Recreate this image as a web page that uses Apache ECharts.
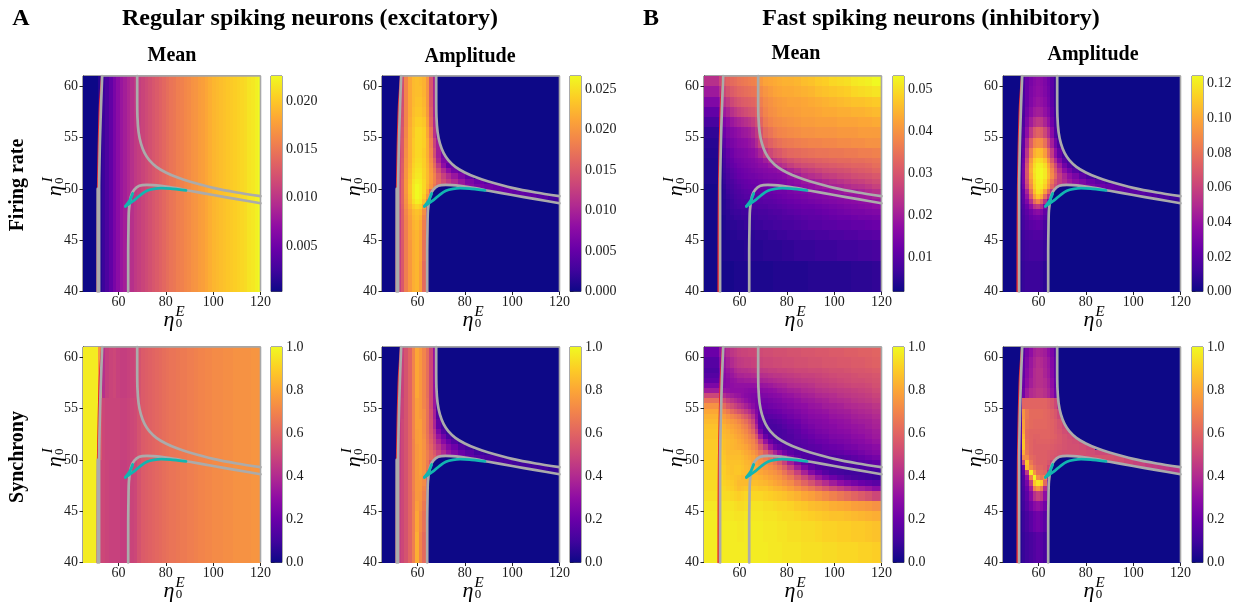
<!DOCTYPE html>
<html><head><meta charset="utf-8">
<style>html,body{margin:0;padding:0;background:#fff}#c{width:1237px;height:602px}</style>
<script src="https://cdn.jsdelivr.net/npm/echarts@6/dist/echarts.min.js"></script>
</head><body><div id="c"></div>
<script>
const plasma=['#0d0887','#41049d','#6a00a8','#8f0da4','#b12a90','#cc4778','#e16462','#f2844b','#fca636','#fcce25','#f0f921'];
const xTicks=[60,80,100,120];
const yTicks=[40,45,50,55,60];
const xE=[45,51.5,53,54.5,56,57.5,59,60.5,62,63.5,65,66.5,68,70,72,74,77,80,84,88,92,96,100,105,110,115,120];
const xM=[45,51.5,53,54.5,56,57.5,59,60.5,62,63.5,65,66.5,68,70,72,74,76,78,80,83,86,89,92,95,98,101,104,107,110,113,116,120];
const yE=[40,43,45,46,47,47.5,48,48.5,49,49.5,50,50.5,51,51.5,52,52.5,53,54,55,56,57,58,59,60,61];
const yF=[40,42,44,45,46,47,47.5,48,48.5,49,49.5,50,50.5,51,51.5,52,52.5,53,53.5,54,54.5,55,55.5,56,56.5,57,57.5,58,58.5,59,60,61];
const xFine=[45,51.5,53,54.5,56,57.5,59,60.5,62,63.5,65,66.5,68,69.5,71,72.5,74,75.5,77,78.5,80,81.5,83,84.5,86,87.5,89,90.5,92,93.5,95,96.5,98,99.5,101,102.5,104,105.5,107,108.5,110,111.5,113,114.5,116,117.5,119,120];
const yWhole=[40,61];
const ySync=[40,50,56,61];

// Values are percent of each colour bar's span.
const rateMeanRS=[[0,5,9,13,18,24,29,33,36,39,42,45,47,49,51,53,55,57,59,61,63,65,66,68,69,71,72,74,75,77,78,80,82,84,85,86,87,88,89,90,91,92,93,95,96,98,100]];
const syncMeanRS=[
[97,50,50,49,48,48,48,47,47,48,49,50,54,57,58,59,60,61,62,63,64,65,65,66,67,67,68,68,69,70,70,71,71,72,72,72,73,73,73,74,74,74,74,74,75,75,75],
[97,55,50,49,49,49,49,48,48,49,50,51,54,57,58,59,60,61,62,63,64,65,65,66,67,67,68,68,69,70,70,71,71,72,72,72,73,73,73,74,74,74,74,74,75,75,75],
[97,75,42,47,49,50,48,47,47,48,49,50,54,57,58,59,60,61,62,63,64,65,65,66,67,67,68,68,69,70,70,71,71,72,72,72,73,73,73,74,74,74,74,74,75,75,75]];
const rateAmpRS=[
[0,47,56,68,76,82,84,78,62,42],[0,47,56,68,76,82,84,79,64,42],[0,47,57,68,77,82,84,80,66,42],[0,47,57,69,77,83,85,81,68,44],
[0,48,58,70,78,84,86,83,70,45],[0,48,58,71,79,85,87,85,73,48],[0,49,59,73,82,89,92,90,78,55],
[0,50,60,74,85,94,98,96,86,66,30,0,0,0,0,0,0,0,0,0,0,0,0,0,10,10],
[0,50,60,75,86,96,100,98,90,75,42,0,0,0,0,0,0,0,0,0,0,0,18,17,15,12],
[0,50,60,76,87,96,100,98,92,80,60,0,0,0,0,0,0,0,24,22,20,20,18,17,15,12],
[0,50,60,76,87,96,100,98,92,84,75,66,58,50,45,40,35,28,24,22,20,18,17],
[0,50,60,76,86,95,98,97,92,85,77,69,60,52,46,40,33,25,20,15,14],
[0,50,59,75,85,93,96,96,91,85,77,69,58,48,40,33,25,18],
[0,50,58,75,84,92,95,95,91,85,76,66,52,40,30,22,18,12],
[0,50,58,74,83,91,94,94,90,84,74,62,45,30,18,20],
[0,50,57,74,82,90,93,93,90,83,72,58,38,25,25,15],
[0,50,56,73,82,89,92,92,89,82,70,52,35,22,12],
[0,50,56,72,82,89,92,92,90,82,68,48,35,10],
[0,48,55,71,82,88,92,92,90,80,65,42,30],
[0,47,54,70,81,87,90,90,88,78,60,40],
[0,46,53,70,80,86,88,88,85,76,58,38],
[0,45,52,70,80,85,87,87,84,75,56,38],
[0,45,52,70,80,85,86,86,83,75,55,38],
[0,42,52,70,80,85,86,85,83,75,55,38]];
const syncAmpRS=[
[0,47,50,54,60,68,82,70,62,48],[0,47,50,54,60,68,80,72,64,50],[0,47,50,54,60,68,78,74,66,50],[0,47,50,54,60,68,76,75,68,52],
[0,47,50,54,60,69,76,76,70,52],[0,47,50,54,60,69,76,76,72,55],[0,46,50,54,60,69,76,77,72,55],
[0,46,50,54,60,69,76,78,74,62,35,0,0,0,0,0,0,0,0,0,0,0,0,0,8,8],
[0,46,50,54,60,69,76,78,74,66,45,0,0,0,0,0,0,0,0,0,0,0,10,10,10,8],
[0,46,50,54,60,69,76,78,74,67,55,0,0,0,0,0,0,0,15,14,12,12,10,10,9,8],
[0,46,50,54,60,69,76,78,74,68,62,58,50,43,36,30,24,18,15,13,12,10,10],
[0,46,50,54,60,69,76,78,74,68,62,56,48,40,32,26,20,15,10,8,8],
[0,46,50,54,60,69,76,78,74,67,60,52,44,35,27,21,14,10],
[0,46,50,54,60,69,77,78,74,66,58,49,38,28,20,14,8,8],
[0,46,50,54,60,70,77,78,73,65,56,46,32,22,12,8],
[0,46,50,54,60,70,77,78,72,64,54,43,25,14,8,6],
[0,46,50,54,60,70,78,78,72,64,53,38,18,10,6],
[0,46,49,54,60,70,78,76,72,64,52,36,14,6],
[0,45,49,54,60,70,78,76,70,64,50,33,12],
[0,44,48,54,60,70,80,76,70,63,50,32],[0,44,48,54,60,70,80,76,70,63,50,32],[0,44,48,54,60,70,80,76,70,63,50,32],[0,44,48,54,60,70,80,76,70,63,50,32],[0,44,48,54,60,70,80,76,70,63,50,32]];
const rateMeanFS=[
[1,1,2,2,2,3,3,3,3,3,3,3,3,3,3,4,4,4,4,4,4,5,5,5,5,5,5,6,6,6,7],
[1,2,3,3,4,4,4,4,5,5,5,5,5,6,6,6,6,7,7,8,8,8,9,9,9,10,10,10,11,11,12],
[1,2,3,4,5,5,6,6,6,6,6,7,7,7,8,8,9,9,10,10,11,11,12,12,13,13,14,14,15,15,16],
[1,2,4,5,6,6,7,7,8,8,8,9,9,10,10,11,11,12,12,13,14,15,15,16,16,17,17,18,18,19,20],
[2,2,4,6,7,8,8,9,9,10,10,10,11,11,12,12,13,14,14,15,16,17,17,18,19,20,20,21,22,22,23],
[2,3,5,6,8,9,9,10,10,11,11,11,12,12,13,14,14,15,16,17,18,18,19,20,21,22,23,24,24,25,26],
[2,3,5,7,9,10,11,12,12,12,13,13,14,14,15,15,16,17,18,19,20,20,21,22,23,24,25,26,27,28,30],
[2,3,5,7,9,11,12,13,13,14,14,15,15,16,16,17,18,19,20,21,22,23,24,25,26,27,28,29,30,31,33],
[2,3,6,8,10,12,13,14,15,15,16,16,17,18,18,19,20,21,22,23,24,25,26,27,28,29,31,32,34,35,37],
[2,3,6,9,11,13,14,15,16,17,17,18,19,19,20,21,22,22,24,25,26,28,29,30,32,33,35,36,38,40,42],
[2,4,7,10,12,14,15,17,18,19,19,20,21,21,22,23,23,24,26,28,30,31,33,35,37,38,40,42,43,45,48],
[3,4,8,11,13,15,17,18,19,20,21,21,22,23,24,24,25,26,28,30,33,35,37,39,41,43,45,47,48,50,52],
[3,5,9,12,15,17,19,20,21,22,22,23,24,25,26,26,27,29,32,35,39,41,43,46,47,49,50,52,53,54,56],
[3,5,10,13,16,18,20,21,22,23,24,25,26,27,28,29,31,34,38,41,45,47,49,51,52,53,54,56,57,58,60],
[3,6,11,15,18,20,22,23,24,25,26,27,29,30,33,36,40,43,47,50,52,53,55,56,57,58,59,60,60,61,63],
[3,7,12,16,19,22,23,24,25,26,27,29,31,35,40,44,47,50,53,55,57,58,59,60,61,62,62,63,63,64,65],
[4,8,14,18,21,24,25,26,27,29,30,33,38,45,50,54,56,59,61,62,63,64,65,65,66,66,67,67,68,68,69],
[5,10,17,22,24,26,28,29,30,32,34,40,48,55,59,62,64,66,67,68,69,70,70,71,71,72,72,73,73,74,74],
[7,13,21,25,27,29,31,33,34,36,39,45,54,62,65,68,70,71,72,73,74,74,75,75,75,76,76,76,77,77,77],
[12,18,26,30,33,36,38,40,42,44,47,52,60,67,70,72,73,74,75,76,77,77,78,78,78,79,79,79,80,80,81],
[18,25,34,38,42,45,48,50,52,54,55,58,65,70,73,74,76,77,77,78,79,79,80,81,81,82,82,83,83,84,85],
[26,33,42,46,50,53,55,57,58,59,60,62,68,72,74,76,77,78,79,79,80,81,82,83,84,85,86,87,87,88,89],
[34,42,50,54,57,59,61,62,63,64,65,66,72,75,77,79,80,81,81,82,83,84,86,87,88,89,90,92,93,94,95],
[42,50,57,60,62,63,65,66,67,68,69,70,76,79,80,81,82,83,83,84,86,87,89,90,92,93,94,96,97,98,100]];
const syncMeanFS=[
[97,97,97,97,97,97,97,97,97,97,97,97,97,97,96,96,96,95,95,95,94,94,94,93,93,92,92,92,91,91,90],
[97,97,97,97,97,97,96,96,97,97,97,97,97,96,96,96,95,95,94,94,93,93,92,91,91,90,90,89,89,88,87],
[97,96,96,96,96,95,95,95,96,96,96,96,96,95,95,95,94,93,93,92,91,90,89,88,87,87,86,85,84,83,82],
[96,96,95,95,95,94,93,93,94,95,95,95,95,94,94,93,92,92,91,89,88,86,85,84,82,81,80,78,77,76,74],
[94,94,93,93,92,91,90,91,92,92,92,92,92,91,90,89,88,87,85,83,80,78,75,72,69,66,63,60,57,54,50],
[93,93,92,91,90,88,86,87,88,89,89,89,88,88,86,84,83,81,78,74,70,66,61,56,51,47,43,39,36,33,29],
[93,92,91,90,89,87,85,85,85,86,86,86,85,84,82,80,78,75,72,66,60,54,47,41,35,30,26,23,20,18,16],
[92,92,90,89,88,87,86,84,84,84,84,84,83,81,79,77,75,71,66,58,50,42,33,26,21,17,14,12,11,10,9],
[92,91,90,88,87,88,88,86,85,84,83,82,80,78,76,74,71,65,58,48,37,27,20,15,12,11,10,10,10,10,10],
[91,91,90,88,87,88,88,87,85,84,82,80,77,75,73,70,65,58,48,36,26,18,14,12,11,11,11,11,12,13,14],
[91,90,89,87,87,87,87,86,84,83,80,78,75,72,70,65,58,48,36,25,18,15,13,12,12,12,13,14,15,16,18],
[90,89,88,86,86,86,86,85,83,81,79,76,72,68,64,56,48,36,24,17,14,13,12,12,13,14,15,17,19,21,23],
[90,89,87,85,85,85,85,83,81,79,76,72,66,58,48,38,30,22,17,14,14,14,15,16,17,18,20,21,23,25,27],
[89,88,86,85,84,83,82,81,79,76,72,68,58,46,32,22,18,15,14,14,15,16,17,19,20,21,23,24,26,27,29],
[89,88,86,85,84,83,81,79,76,73,70,63,48,32,20,15,13,13,14,15,16,18,20,21,23,24,25,27,28,30,32],
[88,87,85,84,83,81,79,77,74,70,66,56,36,20,14,12,12,13,14,16,18,20,22,23,25,26,27,29,30,32,34],
[88,86,84,83,81,79,77,74,71,66,60,46,24,14,12,12,12,13,15,17,20,22,24,25,27,28,29,31,32,33,35],
[87,85,83,81,79,77,75,71,68,62,54,38,18,13,12,12,13,15,17,19,22,24,26,27,28,30,31,32,33,35,37],
[85,83,80,78,76,74,71,67,63,57,49,32,16,13,13,14,15,17,19,21,24,26,27,28,30,31,32,34,35,36,38],
[83,80,77,74,71,68,65,60,56,50,42,29,17,15,16,17,18,20,22,24,26,28,29,30,32,33,34,36,37,38,40],
[80,76,71,67,62,58,54,50,46,41,34,26,19,18,19,20,21,23,24,26,28,30,31,32,34,35,36,38,39,40,42],
[74,68,62,56,52,48,44,41,37,33,29,24,21,21,22,23,24,25,27,29,30,32,33,35,36,37,39,40,41,42,44],
[64,58,52,47,43,40,37,34,31,28,26,24,23,23,24,25,26,28,29,31,33,34,36,37,39,40,41,43,44,45,47],
[50,44,40,37,35,33,32,30,28,27,26,25,25,26,27,28,29,31,32,34,36,37,39,40,41,43,44,45,46,47,49],
[35,34,32,31,30,30,30,30,29,28,28,28,28,29,30,31,33,34,36,37,39,40,42,43,44,45,46,47,48,49,51],
[25,27,28,29,30,31,31,31,31,31,31,32,32,33,34,36,37,38,40,41,42,43,45,46,47,48,49,50,50,51,53],
[18,24,27,29,31,32,34,34,35,35,36,36,37,38,39,40,41,42,43,44,45,46,47,48,49,50,51,52,52,53,54],
[15,24,28,31,33,36,38,38,39,39,40,41,41,42,43,44,44,45,46,47,48,48,49,50,51,52,52,53,54,54,55],
[13,25,30,33,35,39,41,42,42,43,44,45,45,46,47,47,48,48,49,50,50,51,51,52,53,53,54,55,55,56,57],
[15,28,33,37,40,43,45,46,47,47,48,49,49,50,50,51,51,52,52,53,53,54,54,55,55,56,56,57,57,58,59],
[20,32,37,41,44,46,48,49,49,50,50,51,51,52,52,53,53,53,54,54,55,55,56,56,57,57,58,58,59,59,60]];
const rateAmpFS=[
[0,5,8,9,9,9,9,8,6,4],[0,6,9,10,11,11,11,10,8,5],[0,6,10,12,13,14,14,13,10,6],[0,7,11,14,16,17,18,16,12,7],
[0,7,12,15,19,21,22,20,15,8],[0,7,13,17,22,27,29,26,18,9],[0,8,14,20,30,42,46,40,25,12],
[0,8,16,26,42,62,70,60,42,25,10,0,0,0,0,0,0,0,0,0,0,0,0,0,8,8],
[0,9,17,32,55,78,88,82,62,42,25,0,0,0,0,0,0,0,0,0,0,0,14,14,12,10],
[0,9,18,38,64,86,95,92,78,60,42,0,0,0,0,0,0,0,22,18,17,16,16,14,12,10],
[0,9,22,48,72,90,97,97,90,76,60,50,44,38,34,30,27,24,21,19,17,15,13],
[0,10,24,52,76,92,98,99,93,80,66,54,46,40,34,29,25,20,16,12,10],
[0,10,24,55,80,94,99,100,96,85,72,60,47,38,30,24,17,12],
[0,10,24,56,82,95,99,100,96,84,70,56,42,30,22,15,10,8],
[0,9,23,54,80,93,98,98,93,80,65,50,35,22,14,10],
[0,9,21,50,76,90,94,93,87,72,56,40,26,15,10,6],
[0,8,19,44,68,82,86,85,77,62,46,30,18,10,5],
[0,8,17,38,58,70,73,72,64,50,36,22,12,5],
[0,7,15,30,45,56,60,58,50,40,28,14,8],
[0,7,13,25,35,42,45,44,38,31,22,12],
[0,7,12,22,29,34,36,35,31,26,19,10],
[0,6,12,20,26,30,32,31,28,23,17,9],
[0,6,12,20,25,28,30,29,26,22,16,9],
[0,6,12,20,24,27,29,28,25,21,16,9]];
const syncAmpFS=[
[0,5,8,10,12,14,16,15,12,8],[0,5,9,12,16,20,22,20,16,9],[0,6,10,15,22,28,31,28,22,10],[0,6,11,17,28,42,48,44,30,14],
[0,6,12,20,36,68,76,66,40,15],[0,6,13,24,48,88,96,90,62,20],[0,6,14,30,70,100,72,66,70,35],
[0,6,16,45,98,75,63,62,60,42,12,0,0,0,0,0,0,0,0,0,0,0,0,0,42,42],
[0,7,20,85,72,64,60,60,58,50,30,0,0,0,0,0,0,0,0,0,0,0,48,46,45,44],
[0,8,50,88,66,60,58,58,58,55,48,0,0,0,0,0,0,0,54,52,52,50,48,46,44,44],
[0,8,72,72,62,60,58,58,58,57,55,54,53,52,52,52,52,53,54,54,53,50,48],
[0,10,82,66,60,58,58,58,58,57,56,55,54,53,53,53,53,52,50,50,50],
[0,12,88,64,60,58,58,58,58,58,57,56,55,54,53,53,52,50],
[0,14,88,63,60,58,59,59,59,59,58,57,56,54,53,52,50,48],
[0,16,84,62,60,59,59,60,60,60,59,58,56,54,52,50],
[0,16,80,62,60,60,60,60,60,60,59,57,55,52,50,48],
[0,15,78,64,62,61,61,61,61,60,59,57,54,50,46],
[0,14,75,66,62,62,62,62,61,60,58,55,50,42],
[0,12,60,60,60,60,60,60,60,58,55,50,40],
[0,5,22,34,40,42,44,44,42,38,32,22],
[0,5,20,30,36,40,42,42,40,36,30,20],
[0,5,18,28,34,40,42,42,38,34,28,18],
[0,5,18,26,33,38,41,40,37,33,27,18],
[0,5,16,24,30,36,38,37,35,30,25,16]];

const redLine=[[51,40],[51.05,45],[51.2,50],[51.5,54],[52,58],[52.9,61]];
const grayLeft=[[51.8,40],[51.8,45],[51.8,50],[52,53],[52.2,55],[52.6,58],[53.1,61]];
const grayLeftRS=[[51.2,40],[51.2,50]];
const grayUpper=[[67.9,61],[67.9,59],[68,57],[68.5,55.5],[69.5,54.4],[71,53.5],[73,52.8],[76,52.15],[80,51.6],[85,51.1],[90,50.72],[100,50.1],[110,49.65],[120,49.3]];
const grayLower=[[64.1,40],[64.1,44],[64.2,46],[64.4,47.9],[65.3,49.3],[66.6,49.9],[68.8,50.3],[72,50.4],[78,50.3],[85,50.05],[90,49.82],[100,49.4],[110,49],[120,48.6]];
const grayFrame=[[53.1,61],[120,61],[120,40]];
const cyanMain=[[88.5,49.85],[85,49.95],[82,50.03],[78,50.07],[75,50],[72,49.82],[69.5,49.45],[66.7,48.9],[64.5,48.55],[62.9,48.3]];
const cyanBack=[[62.9,48.3],[64.7,48.85],[66,49.55]];

const panels=[
 {name:'rateMeanRS',d:rateMeanRS,xs:xFine,ys:yWhole,lo:.0003,hi:.0226,ticks:[.005,.01,.015,.02],dec:3,L:83,T:76,C:271,rs:true},
 {name:'rateAmpRS',d:rateAmpRS,xs:xE,ys:yE,lo:0,hi:.0266,ticks:[0,.005,.01,.015,.02,.025],dec:3,L:382,T:76,C:570,rs:true,amp:true},
 {name:'rateMeanFS',d:rateMeanFS,xs:xM,ys:yE,lo:.0018,hi:.0533,ticks:[.01,.02,.03,.04,.05],dec:2,L:704,T:76,C:893,rs:false},
 {name:'rateAmpFS',d:rateAmpFS,xs:xE,ys:yE,lo:0,hi:.1245,ticks:[0,.02,.04,.06,.08,.1,.12],dec:2,L:1003,T:76,C:1192,rs:false,amp:true},
 {name:'syncMeanRS',d:syncMeanRS,xs:xFine,ys:ySync,lo:0,hi:1,ticks:[0,.2,.4,.6,.8,1],dec:1,L:83,T:347,C:271,rs:true},
 {name:'syncAmpRS',d:syncAmpRS,xs:xE,ys:yE,lo:0,hi:1,ticks:[0,.2,.4,.6,.8,1],dec:1,L:382,T:347,C:570,rs:true,amp:true},
 {name:'syncMeanFS',d:syncMeanFS,xs:xM,ys:yF,lo:0,hi:1,ticks:[0,.2,.4,.6,.8,1],dec:1,L:704,T:347,C:893,rs:false},
 {name:'syncAmpFS',d:syncAmpFS,xs:xE,ys:yE,lo:0,hi:1,ticks:[0,.2,.4,.6,.8,1],dec:1,L:1003,T:347,C:1192,rs:false,amp:true}
];
const F='"Liberation Serif",serif';
const W=177.5,H=215.5;
const grid=[],xAxis=[],yAxis=[],series=[],visualMap=[],graphic=[];
const lab={fontFamily:F,fontSize:14,color:'#1a1a1a'};
function txt(t,x,y,size,o){graphic.push({type:'text',x,y,rotation:(o&&o.rot)||0,silent:true,z:100,style:{text:t,fill:'#000',align:'center',verticalAlign:'middle',font:((o&&o.st)||'')+' '+size+'px '+F}});}
function renderCell(p,api){
  const a=api.coord([api.value(0),api.value(3)]),b=api.coord([api.value(1),api.value(2)]);
  const x=Math.round(a[0]),y=Math.round(a[1]);
  return {type:'rect',shape:{x,y,width:Math.round(b[0])-x,height:Math.round(b[1])-y},style:{fill:api.visual('color')}};
}
const gradStops=plasma.map((c,i)=>({offset:i/(plasma.length-1),color:c}));
function renderBar(p,api){
  const a=api.coord([api.value(0),api.value(3)]),b=api.coord([api.value(1),api.value(2)]);
  return {type:'rect',shape:{x:a[0],y:a[1],width:b[0]-a[0],height:b[1]-a[1]},style:{fill:new echarts.graphic.LinearGradient(0,1,0,0,gradStops)}};
}
function mask(gi,pts){
  series.push({type:'custom',xAxisIndex:gi,yAxisIndex:gi,silent:true,z:2,data:[pts[0]],encode:{x:0,y:1},
    renderItem:(p,api)=>({type:'polygon',shape:{points:pts.map(q=>api.coord(q))},style:{fill:plasma[0]}})});
}
function line(gi,data,color,w,z){series.push({type:'line',xAxisIndex:gi,yAxisIndex:gi,data,symbol:'none',smooth:0.25,clip:false,silent:true,z,lineStyle:{color,width:w,cap:'round',join:'round'}});}
panels.forEach((p,i)=>{
  const gi=i*2;
  grid.push({left:p.L,top:p.T,width:W,height:H,show:true,borderColor:'#444',borderWidth:1,backgroundColor:'#fff'});
  xAxis.push({gridIndex:gi,type:'value',min:45,max:120,splitLine:{show:false},axisLine:{lineStyle:{color:'#222'}},
    axisTick:{length:3.5,lineStyle:{color:'#222'},customValues:xTicks},axisLabel:{...lab,margin:4,customValues:xTicks,hideOverlap:false}});
  yAxis.push({gridIndex:gi,type:'value',min:40,max:61,splitLine:{show:false},axisLine:{lineStyle:{color:'#222'}},
    axisTick:{length:3.5,lineStyle:{color:'#222'},customValues:yTicks},axisLabel:{...lab,margin:5,customValues:yTicks}});
  const cells=[];
  p.d.forEach((row,r)=>{
    for(let c=0;c<p.xs.length-1;c++){
      const n=c<row.length?row[c]:0;
      cells.push([p.xs[c],p.xs[c+1],p.ys[r],p.ys[r+1],p.lo+n/100*(p.hi-p.lo)]);
    }
  });
  visualMap.push({type:'continuous',show:false,min:p.lo,max:p.hi,dimension:4,seriesIndex:series.length,inRange:{color:plasma}});
  series.push({type:'custom',name:p.name,xAxisIndex:gi,yAxisIndex:gi,renderItem:renderCell,data:cells,encode:{x:[0,1],y:[2,3]},silent:true,z:1,progressive:0});
  if(p.amp){
    mask(gi,[...grayUpper,[120,61]]);
    mask(gi,[...grayLower,[120,40]]);
    mask(gi,[[45,40],...grayLeft,[45,61]]);
  }
  line(gi,redLine,'#e8242a',1.6,3);
  series.push({type:'line',xAxisIndex:gi,yAxisIndex:gi,data:grayFrame,symbol:'none',clip:false,silent:true,z:4,lineStyle:{color:'#a8a8a8',width:1.6}});
  if(p.rs) line(gi,grayLeftRS,'#ababab',2.6,4);
  line(gi,grayLeft,'#ababab',2.7,4);
  line(gi,grayUpper,'#ababab',2.7,4);
  line(gi,grayLower,'#ababab',2.7,4);
  line(gi,cyanMain,'#12b5b0',2.8,5);
  line(gi,cyanBack,'#12b5b0',2.8,5);
  // colour bar
  grid.push({left:p.C,top:p.T,width:11,height:H,show:true,borderColor:'#555',borderWidth:1});
  xAxis.push({gridIndex:gi+1,type:'value',min:0,max:1,show:false});
  yAxis.push({gridIndex:gi+1,type:'value',min:p.lo,max:p.hi,position:'right',splitLine:{show:false},axisLine:{show:false},
    axisTick:{length:3.5,lineStyle:{color:'#222'},customValues:p.ticks},
    axisLabel:{...lab,margin:4,customValues:p.ticks,formatter:v=>Number(v).toFixed(p.dec)}});
  series.push({type:'custom',xAxisIndex:gi+1,yAxisIndex:gi+1,renderItem:renderBar,data:[[0,1,p.lo,p.hi]],encode:{x:[0,1],y:[2,3]},silent:true});
  // axis names
  const b=p.T+H,mid=p.T+H/2;
  txt('η',p.L+86,b+29,22,{st:'italic'});
  txt('E',p.L+97,b+21,15,{st:'italic'});
  txt('0',p.L+96,b+32,13);
  txt('η',p.L-28,mid+7,22,{st:'italic',rot:Math.PI/2});
  txt('I',p.L-35,mid-4,15,{st:'italic',rot:Math.PI/2});
  txt('0',p.L-23,mid-3,13,{rot:Math.PI/2});
});
txt('A',21,19,24,{st:'bold'});
txt('B',651,19,24,{st:'bold'});
txt('Regular spiking neurons (excitatory)',310,19,24,{st:'bold'});
txt('Fast spiking neurons (inhibitory)',931,19,24,{st:'bold'});
txt('Mean',172,56,20,{st:'bold'});
txt('Amplitude',470,57,20,{st:'bold'});
txt('Mean',796,54,20,{st:'bold'});
txt('Amplitude',1093,55,20,{st:'bold'});
txt('Firing rate',18,185,20,{st:'bold',rot:Math.PI/2});
txt('Synchrony',18,457,20,{st:'bold',rot:Math.PI/2});
const chart=echarts.init(document.getElementById('c'),null,{renderer:'canvas'});
chart.setOption({animation:false,backgroundColor:'#fff',grid,xAxis,yAxis,series,visualMap,graphic});
</script></body></html>
